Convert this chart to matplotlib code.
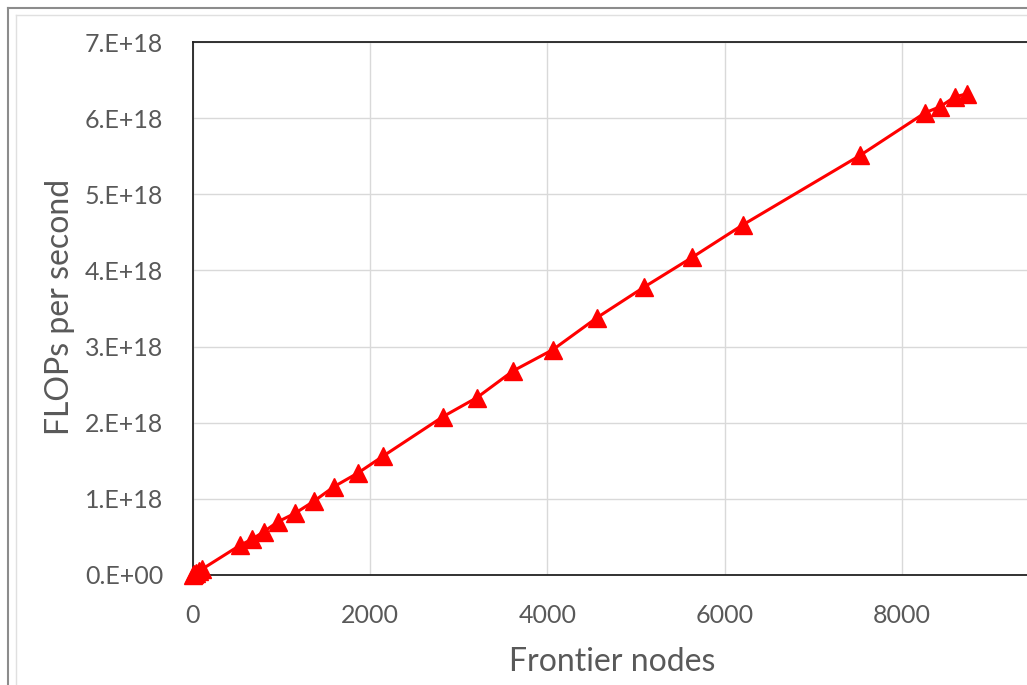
import matplotlib.pyplot as plt
from matplotlib.ticker import FuncFormatter, FixedLocator, MultipleLocator
from matplotlib.lines import Line2D

plt.rcParams['font.family'] = ['Lato', 'DejaVu Sans']

# Frontier nodes vs FLOPs per second
nodes = [1, 16, 32, 64, 100, 530, 666, 801, 959, 1151, 1366, 1591, 1862, 2144,
         2822, 3205, 3612, 4063, 4560, 5090, 5632, 6208, 7528, 8262, 8431, 8600, 8736]
flops = [0.001e18, 0.012e18, 0.024e18, 0.047e18, 0.075e18, 0.39e18, 0.47e18, 0.57e18,
         0.70e18, 0.81e18, 0.97e18, 1.16e18, 1.34e18, 1.56e18,
         2.08e18, 2.33e18, 2.68e18, 2.96e18, 3.38e18, 3.78e18, 4.17e18, 4.60e18,
         5.51e18, 6.07e18, 6.15e18, 6.28e18, 6.32e18]
xticks = [0, 2000, 4000, 6000, 8000]

grey = '#595959'

fig = plt.figure(figsize=(10.27, 6.85), dpi=100)
ax = fig.add_axes([193 / 1027, 1 - 575 / 685, 886 / 1027, 533 / 685])

ax.plot(nodes, flops, color='red', lw=2.2, marker='^', markersize=13, clip_on=False, zorder=3)

ax.set_xlim(0, 10000)
ax.set_ylim(0, 7e18)
ax.xaxis.set_major_locator(FixedLocator(xticks))
ax.xaxis.set_minor_locator(FixedLocator([10000]))
ax.yaxis.set_major_locator(MultipleLocator(1e18))


def sci(v, pos):
    if v == 0:
        return '0.E+00'
    return '%d.E+18' % round(v / 1e18)


ax.yaxis.set_major_formatter(FuncFormatter(sci))
ax.grid(True, color='#d9d9d9', lw=1)
ax.set_axisbelow(True)
for s in ax.spines.values():
    s.set_color('#222222')
    s.set_linewidth(1.3)
ax.tick_params(length=0, labelsize=18, colors=grey)
ax.tick_params(axis='y', pad=21.5)
ax.tick_params(axis='x', pad=21)

ax.set_xlabel('Frontier nodes', fontsize=23, color=grey)
ax.set_ylabel('FLOPs per second', fontsize=23, color=grey)
ax.xaxis.set_label_coords(0.473, -0.135)
ax.yaxis.set_label_coords(-0.133, 0.503)

# chart area border
fig.add_artist(Line2D([8 / 1027, 8 / 1027], [0, 1 - 8 / 685], color='#8c8c8c', lw=1.5))
fig.add_artist(Line2D([8 / 1027, 1], [1 - 8 / 685, 1 - 8 / 685], color='#8c8c8c', lw=1.5))
fig.add_artist(Line2D([16 / 1027, 16 / 1027], [0, 1 - 15 / 685], color='#e0e0e0', lw=1))
fig.add_artist(Line2D([16 / 1027, 1], [1 - 15 / 685, 1 - 15 / 685], color='#e0e0e0', lw=1))

fig.savefig('out.png', dpi=100)
